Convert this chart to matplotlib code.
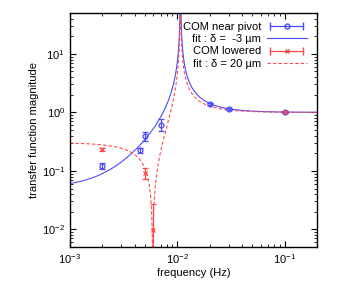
import numpy as np
import matplotlib
matplotlib.use('Agg')
import matplotlib.pyplot as plt
from matplotlib.lines import Line2D
from matplotlib.legend_handler import HandlerLine2D

plt.rcParams['font.family'] = ['Liberation Sans', 'DejaVu Sans']
plt.rcParams['font.size'] = 8

blue = '#4a4aff'
red = '#ff4a4a'

# measured points, COM near pivot
f_pivot = [0.002, 0.0045, 0.005, 0.007, 0.02, 0.03, 0.1]
h_pivot = [0.123, 0.224, 0.39, 0.62, 1.39, 1.14, 1.01]
e_pivot = [0.016, 0.022, 0.07, 0.14, 0.04, 0.03, 0.03]

# measured points, COM lowered
f_low = [0.002, 0.005, 0.006, 0.1]
h_low = [0.233, 0.092, 0.0098, 1.01]
e_low = [0.015, 0.018, 0.017, 0.03]

# fit parameters: |(f^2 - fz2) / (f^2 - fp^2)|
fp_pivot = 0.0107
fz2_pivot = -5.9e-6
fp_low = 0.0107
fz2_low = 0.0059 ** 2


def tf(f, fz2, fp):
    return np.abs((f ** 2 - fz2) / (f ** 2 - fp ** 2))


f = np.logspace(-3, np.log10(0.2), 6000)

fig = plt.figure(figsize=(3.6, 2.82), dpi=100)
ax = fig.add_axes([0.194, 0.124, 0.687, 0.830])

fit_p, = ax.plot(f, tf(f, fz2_pivot, fp_pivot), color=blue, lw=0.8)
fit_l, = ax.plot(f, tf(f, fz2_low, fp_low), color=red, lw=0.8, ls=(0, (3, 2)))

ax.errorbar(f_pivot, h_pivot, yerr=e_pivot, fmt='o', color=blue, mfc='none',
            ms=3.5, mew=0.9, elinewidth=0.9, capsize=2, capthick=0.9)
ax.errorbar(f_low, h_low, yerr=e_low, fmt='x', color=red,
            ms=3.5, mew=0.9, elinewidth=0.9, capsize=2, capthick=0.9)

ax.set_xscale('log')
ax.set_yscale('log')
ax.set_xlim(1e-3, 0.2)
ax.set_ylim(5e-3, 50)
ax.set_xlabel('frequency (Hz)', labelpad=2)
ax.set_ylabel('transfer function magnitude', labelpad=2)
ax.tick_params(which='both', direction='in', top=True, right=True)
ax.tick_params(which='major', length=4, width=0.8)
ax.tick_params(which='minor', length=2, width=0.6)
for s in ax.spines.values():
    s.set_linewidth(1.0)

# legend samples in gnuplot style
caps_p = Line2D([], [], color=blue, marker='|', ms=6, lw=0.9)
dot_p = Line2D([], [], color=blue, marker='o', mfc='none', ms=3.5, ls='none')
caps_l = Line2D([], [], color=red, marker='|', ms=6, lw=0.9)
dot_l = Line2D([], [], color=red, marker='x', ms=3.5, ls='none')

hmap = {caps_p: HandlerLine2D(numpoints=2), caps_l: HandlerLine2D(numpoints=2),
        dot_p: HandlerLine2D(numpoints=1), dot_l: HandlerLine2D(numpoints=1)}

ax.legend([(caps_p, dot_p), fit_p, (caps_l, dot_l), fit_l],
          ['COM near pivot', 'fit : δ =  -3 µm', 'COM lowered', 'fit : δ = 20 µm'],
          handler_map=hmap, markerfirst=False, frameon=False,
          loc='upper right', bbox_to_anchor=(0.985, 0.99),
          handlelength=3.6, handletextpad=0.5, labelspacing=0.2,
          borderaxespad=0.2, fontsize=8)

fig.savefig('out.png', dpi=100)
